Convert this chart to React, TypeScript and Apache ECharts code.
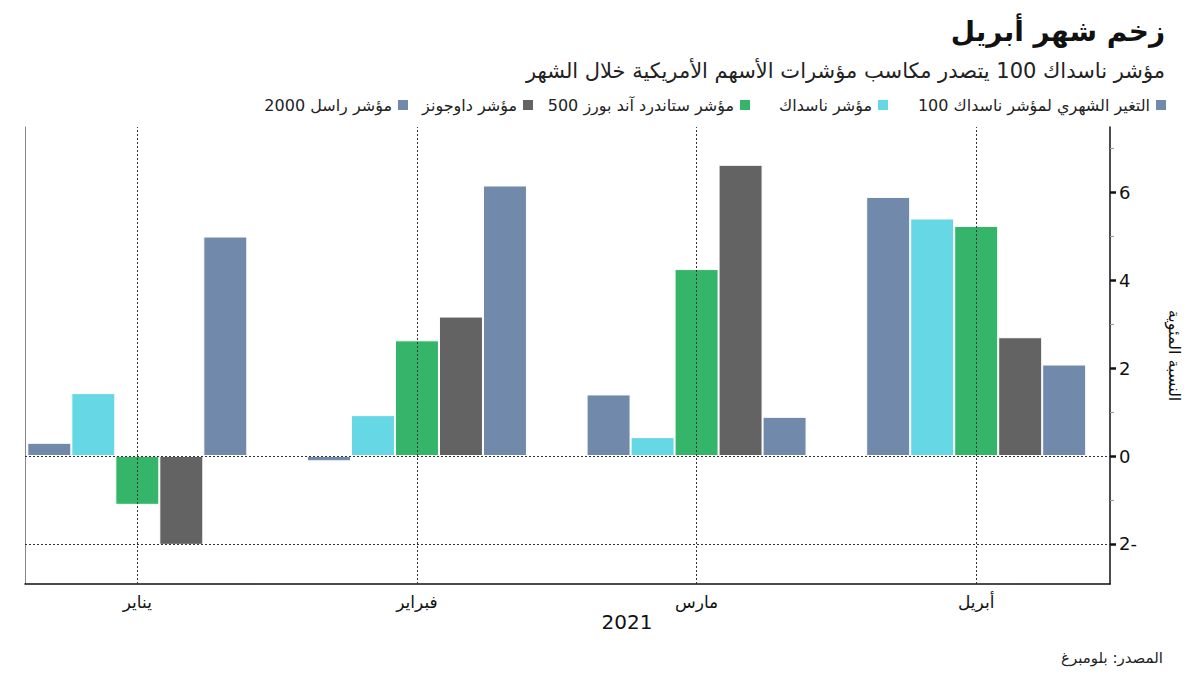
import React, { useEffect, useRef } from "react";
import * as echarts from "echarts";

const categories = ["يناير", "فبراير", "مارس", "أبريل"];
const seriesNames = [
  "التغير الشهري لمؤشر ناسداك 100",
  "مؤشر ناسداك",
  "مؤشر ستاندرد آند بورز 500",
  "مؤشر داوجونز",
  "مؤشر راسل 2000",
];
const nasdaq100 = [0.3, -0.12, 1.4, 5.89];
const nasdaq = [1.43, 0.93, 0.43, 5.4];
const sp500 = [-1.11, 2.63, 4.25, 5.23];
const dow = [-2.02, 3.17, 6.62, 2.7];
const russell = [4.99, 6.15, 0.89, 2.08];
const majorTicks = [-2, 0, 2, 4, 6];
const minorTicks = [-1, 1, 3, 5, 7];
const refLines = [0, -2];
const yMin = -2.91;
const yMax = 7.48;

const colors = ["#7189ab", "#66d8e5", "#35b56a", "#636363", "#7189ab"];
const legendRight = [27, 305, 443, 660, 785];
const FONT = "DejaVu Sans";

export default function App() {
  const ref = useRef<HTMLDivElement>(null);
  useEffect(() => {
    if (!ref.current) return;
    const chart = echarts.init(ref.current, null, { renderer: "svg" });
    const values = [nasdaq100, nasdaq, sp500, dow, russell];
    const barSeries = values.map((d, i) => ({
      name: seriesNames[i],
      type: "bar",
      xAxisIndex: 0,
      yAxisIndex: 0,
      data: d,
      barWidth: 44,
      barGap: "0%",
      z: 3,
      itemStyle: { color: colors[i], borderColor: "#ffffff", borderWidth: 1 },
    }));
    const dotted = { type: [2, 2], color: "#333", width: 1 };
    const option: any = {
      animation: false,
      textStyle: { fontFamily: FONT },
      title: [
        {
          text: "زخم شهر أبريل",
          right: 30,
          top: 12,
          textStyle: { fontFamily: FONT, fontSize: 28, fontWeight: "bold", color: "#111" },
        },
        {
          text: "مؤشر ناسداك 100 يتصدر مكاسب مؤشرات الأسهم الأمريكية خلال الشهر",
          right: 30,
          top: 55,
          textStyle: { fontFamily: FONT, fontSize: 21, fontWeight: "normal", color: "#222" },
        },
        {
          text: "2021",
          left: 622,
          top: 607,
          textAlign: "center",
          textStyle: { fontFamily: FONT, fontSize: 20, fontWeight: "normal", color: "#111" },
        },
        {
          text: "المصدر: بلومبرغ",
          right: 32,
          top: 645,
          textStyle: { fontFamily: FONT, fontSize: 15, fontWeight: "normal", color: "#222" },
        },
      ],
      legend: seriesNames.map((n, i) => ({
        data: [n],
        right: legendRight[i],
        top: 92,
        align: "right",
        itemWidth: 12,
        itemHeight: 12,
        icon: "rect",
        selectedMode: false,
        textStyle: { fontFamily: FONT, fontSize: 16, color: "#222" },
      })),
      grid: [
        { left: -2.5, right: 84, top: 127, bottom: 91, outerBoundsMode: "none" },
        { left: 25, right: 90, top: 127, bottom: 91, outerBoundsMode: "none" },
      ],
      xAxis: [
        {
          type: "category",
          gridIndex: 0,
          data: categories,
          axisLine: { show: false },
          axisTick: { show: false },
          splitLine: { show: false },
          axisLabel: { color: "#111", fontSize: 17, margin: 9, fontFamily: FONT },
        },
        {
          type: "value",
          gridIndex: 1,
          min: 0,
          max: 1,
          axisLine: { show: true, onZero: false, lineStyle: { color: "#111", width: 1.5 } },
          axisTick: { show: false },
          axisLabel: { show: false },
          splitLine: { show: false },
        },
      ],
      yAxis: [
        { type: "value", gridIndex: 0, min: yMin, max: yMax, show: false, splitLine: { show: false } },
        {
          type: "value",
          gridIndex: 1,
          min: yMin,
          max: yMax,
          position: "left",
          axisLine: { show: true, lineStyle: { color: "#888", width: 1 } },
          axisTick: { show: false },
          axisLabel: { show: false },
          splitLine: { show: false },
        },
        {
          type: "value",
          gridIndex: 1,
          min: yMin,
          max: yMax,
          position: "right",
          name: "النسبة المئوية",
          nameLocation: "middle",
          nameRotate: -90,
          nameGap: 56,
          nameTextStyle: { fontFamily: FONT, fontSize: 16, color: "#111" },
          axisLine: { show: true, lineStyle: { color: "#111", width: 1.5 } },
          axisTick: {
            show: true,
            customValues: majorTicks,
            length: 6,
            lineStyle: { color: "#111", width: 2.5 },
          },
          axisLabel: {
            show: true,
            customValues: majorTicks,
            margin: 9,
            color: "#111",
            fontSize: 18,
            fontFamily: FONT,
            formatter: (v: number) => (v < 0 ? Math.abs(v) + "-" : String(v)),
          },
          splitLine: { show: false },
        },
        {
          type: "value",
          gridIndex: 1,
          min: yMin,
          max: yMax,
          position: "right",
          axisLine: { show: false },
          axisTick: {
            show: true,
            customValues: minorTicks,
            length: 4,
            lineStyle: { color: "#999", width: 1 },
          },
          axisLabel: { show: false },
          splitLine: { show: false },
        },
      ],
      series: [
        {
          type: "line",
          xAxisIndex: 0,
          yAxisIndex: 0,
          data: [],
          z: 1,
          silent: true,
          markLine: {
            symbol: "none",
            silent: true,
            label: { show: false },
            lineStyle: dotted,
            data: categories.map((c) => ({ xAxis: c })),
          },
        },
        {
          type: "line",
          xAxisIndex: 1,
          yAxisIndex: 1,
          data: [],
          z: 1,
          silent: true,
          markLine: {
            symbol: "none",
            silent: true,
            label: { show: false },
            lineStyle: dotted,
            data: refLines.map((v) => ({ yAxis: v })),
          },
        },
        ...barSeries,
      ],
    };
    chart.setOption(option);
    return () => chart.dispose();
  }, []);
  return (
    <div
      ref={ref}
      style={{ position: "fixed", left: 0, top: 0, width: 1200, height: 675, background: "#fff" }}
    />
  );
}
